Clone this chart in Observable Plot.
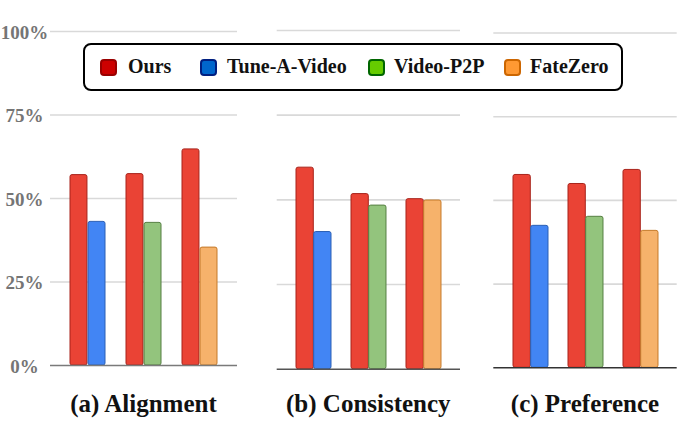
<!DOCTYPE html>
<html>
<head>
<meta charset="utf-8">
<script src="https://cdn.jsdelivr.net/npm/d3@7"></script>
<script src="https://cdn.jsdelivr.net/npm/@observablehq/plot@0.6"></script>
<style>
  html, body { margin: 0; padding: 0; background: #fff; }
  #wrap { position: relative; width: 682px; height: 434px; overflow: hidden; font-family: "Liberation Serif", "Times New Roman", serif; }
  .panel { position: absolute; top: 0; }
  .title { position: absolute; top: 390px; font-weight: bold; font-size: 25px; line-height: 28px; color: #111; text-align: center; white-space: nowrap; }
  #legend { position: absolute; left: 83px; top: 43px; width: 540px; height: 48px; box-sizing: border-box; border: 2px solid #000; border-radius: 8px; background: #fff; }
  .sw { position: absolute; top: 14px; width: 17px; height: 17px; box-sizing: border-box; border: 2px solid; border-radius: 4px; }
  .lt { position: absolute; top: 9px; font-weight: bold; font-size: 20px; line-height: 24px; color: #111; white-space: nowrap; }
</style>
</head>
<body>
<div id="wrap"></div>
<script>
// ---- data ----
const methods = ["Ours", "Tune-A-Video", "Video-P2P", "FateZero"];
const competitors = ["Tune-A-Video", "Video-P2P", "FateZero"];
const panelTitles = ["(a) Alignment", "(b) Consistency", "(c) Preference"];
const yTicks = [0, 25, 50, 75, 100];

const alignmentOurs = [57.0, 57.3, 64.7];
const alignmentOthers = [43.0, 42.7, 35.3];
const consistencyOurs = [59.5, 51.7, 50.2];
const consistencyOthers = [40.5, 48.3, 49.8];
const preferenceOurs = [57.6, 54.9, 59.1];
const preferenceOthers = [42.4, 45.1, 40.9];

// ---- styles ----
const barFill = {"Ours": "#ea4335", "Tune-A-Video": "#4285f4", "Video-P2P": "#93c47d", "FateZero": "#f6b26b"};
const barStroke = {"Ours": "#a8231b", "Tune-A-Video": "#2b5fb5", "Video-P2P": "#557f42", "FateZero": "#c57a2a"};
const legendFill = {"Ours": "#cc0000", "Tune-A-Video": "#0066cc", "Video-P2P": "#66cc00", "FateZero": "#ff9933"};
const legendStroke = {"Ours": "#990000", "Tune-A-Video": "#001f80", "Video-P2P": "#006600", "FateZero": "#cc6600"};

const seriesOurs = [alignmentOurs, consistencyOurs, preferenceOurs];
const seriesOthers = [alignmentOthers, consistencyOthers, preferenceOthers];

// layout per panel: svg left, width, margins
const layouts = [
  {left: 0,   width: 240, ml: 50,  mr: 3,   mt: 31,   base: 365,   axis: true,  baseColor: "#7a7a7a"},
  {left: 270, width: 196, ml: 6.7, mr: 6,   mt: 30,   base: 368.7, axis: false, baseColor: "#555"},
  {left: 487, width: 195, ml: 6.3, mr: 5.3, mt: 32.5, base: 367.3, axis: false, baseColor: "#333"}
];
const padInner = 0.37, padOuter = 0.345;
const mb = 10;

const wrap = document.getElementById("wrap");

layouts.forEach((L, i) => {
  const rows = competitors.map((c, j) => ({group: c, ours: seriesOurs[i][j], other: seriesOthers[i][j], method: c}));
  const W = L.width - L.ml - L.mr;
  const step = W / (competitors.length - padInner + 2 * padOuter);
  const half = step * (1 - padInner) / 2;
  const marks = [
    Plot.ruleY(yTicks.filter(t => t > 0), {stroke: "#d9d9d9", strokeWidth: 1.6}),
    Plot.barY(rows, {x: "group", y: "ours", insetRight: half + 0.3, fill: d => barFill["Ours"], stroke: d => barStroke["Ours"], strokeWidth: 1, rx: 2}),
    Plot.barY(rows, {x: "group", y: "other", insetLeft: half + 0.3, fill: d => barFill[d.method], stroke: d => barStroke[d.method], strokeWidth: 1, rx: 2}),
    Plot.ruleY([0], {stroke: L.baseColor, strokeWidth: 1.6})
  ];
  if (L.axis) {
    marks.push(Plot.text(yTicks, {y: d => d, text: d => d + "%", frameAnchor: "left", dx: -26, dy: 1, textAnchor: "middle",
      fill: "#757575", fontSize: 19, fontWeight: "bold", fontFamily: "Liberation Serif"}));
  }
  const chart = Plot.plot({
    width: L.width,
    height: L.base + mb,
    marginLeft: L.ml,
    marginRight: L.mr,
    marginTop: L.mt,
    marginBottom: mb,
    x: {domain: competitors, paddingInner: padInner, paddingOuter: padOuter, axis: null},
    y: {domain: [0, 100], axis: null},
    style: {background: "transparent", overflow: "visible"},
    marks
  });
  chart.classList.add("panel");
  chart.style.left = L.left + "px";
  wrap.appendChild(chart);

  const t = document.createElement("div");
  t.className = "title";
  t.textContent = panelTitles[i];
  t.style.left = (L.left + L.ml - 20) + "px";
  t.style.width = (W + 40) + "px";
  wrap.appendChild(t);
});

// legend
const legend = document.createElement("div");
legend.id = "legend";
const swLeft = [15, 115, 283, 419];
const txLeft = [43, 142, 309, 445];
methods.forEach((m, i) => {
  const s = document.createElement("div");
  s.className = "sw";
  s.style.left = swLeft[i] + "px";
  s.style.background = legendFill[m];
  s.style.borderColor = legendStroke[m];
  legend.appendChild(s);
  const t = document.createElement("div");
  t.className = "lt";
  t.style.left = txLeft[i] + "px";
  t.textContent = m;
  legend.appendChild(t);
});
wrap.appendChild(legend);
</script>
</body>
</html>
